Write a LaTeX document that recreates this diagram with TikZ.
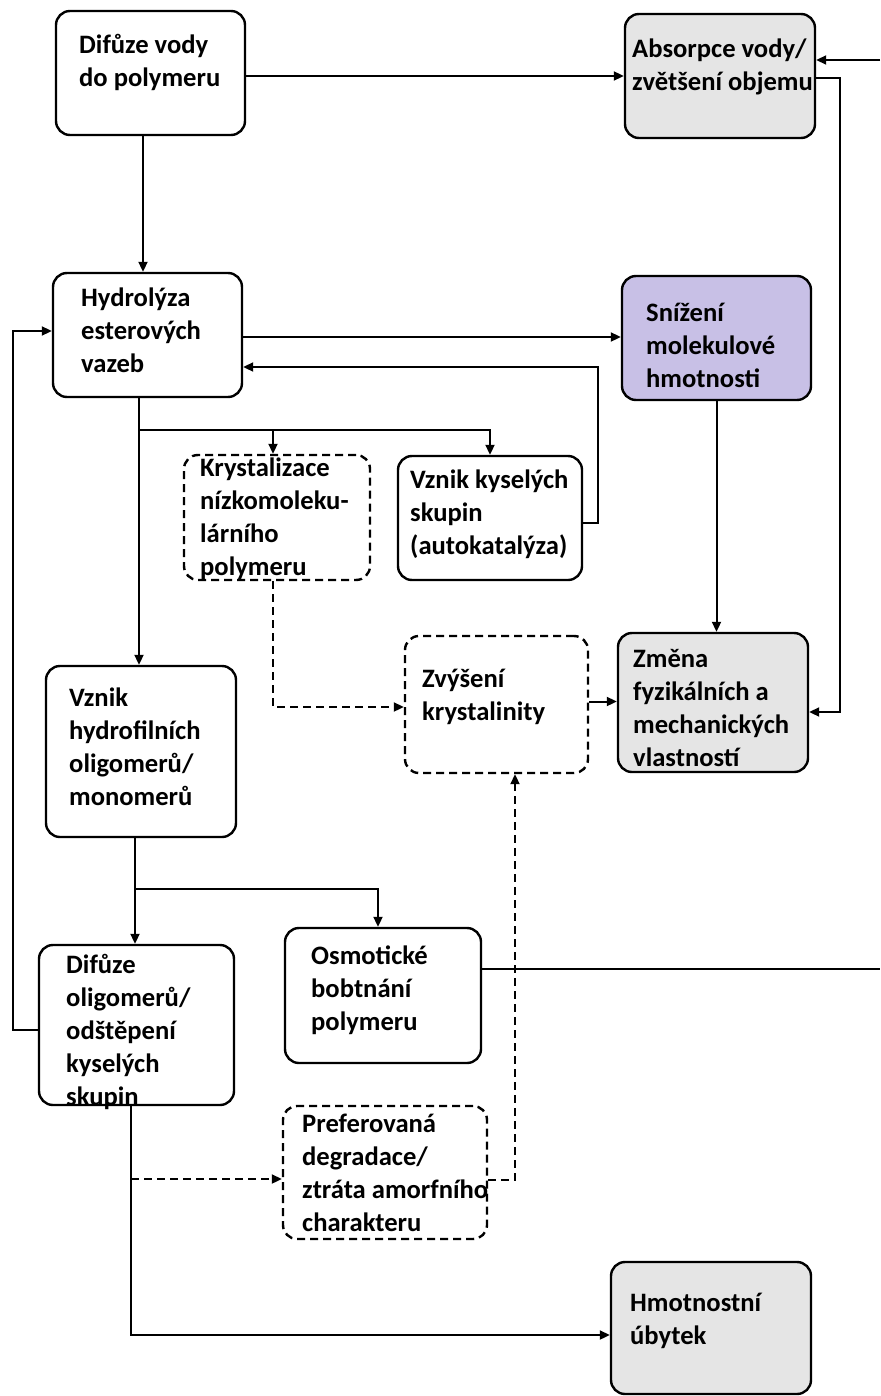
\documentclass[tikz,border=0pt]{standalone}
\usepackage{fontspec}
\setmainfont{Carlito}
\usetikzlibrary{arrows.meta,calc}
\definecolor{boxgray}{RGB}{229,229,229}
\definecolor{lav}{RGB}{200,192,230}
\begin{document}
\begin{tikzpicture}[x=1bp,y=-1bp,
  box/.style={draw, line width=2.4bp, rounded corners=14bp, inner sep=0pt, fill=white},
  dbox/.style={box, dash pattern=on 8bp off 5bp},
  txt/.style={font=\fontsize{26.6bp}{33bp}\selectfont\bfseries, align=left, inner sep=0pt, anchor=base west},
  conn/.style={line width=2bp},
  arr/.style={conn, -{Triangle[length=10bp,width=9bp]}},
  darr/.style={arr, dash pattern=on 8bp off 5bp}]
\useasboundingbox (0,0) rectangle (880,1396);
% boxes
\node[box, minimum width=189bp, minimum height=124bp] (A) at (150.5,73) {};
\node[box, fill=boxgray, minimum width=190bp, minimum height=124bp] (B) at (720,76) {};
\node[box, minimum width=189bp, minimum height=124bp] (C) at (147.5,335) {};
\node[box, fill=lav, minimum width=189bp, minimum height=124bp] (D) at (716.5,338) {};
\node[dbox, minimum width=186bp, minimum height=125bp] (E) at (277,517.5) {};
\node[box, minimum width=184bp, minimum height=124bp] (F) at (490,518) {};
\node[box, minimum width=190bp, minimum height=171bp] (G) at (141,751.5) {};
\node[dbox, minimum width=183bp, minimum height=137bp] (H) at (496.5,704.5) {};
\node[box, fill=boxgray, minimum width=190bp, minimum height=139bp] (I) at (713,702.5) {};
\node[box, minimum width=195bp, minimum height=160bp] (J) at (136.5,1025) {};
\node[box, minimum width=196bp, minimum height=135bp] (K) at (383,995.5) {};
\node[dbox, minimum width=204bp, minimum height=133bp] (L) at (385,1172.5) {};
\node[box, fill=boxgray, minimum width=200bp, minimum height=132bp] (M) at (711,1328) {};
% texts (anchored at the baseline of the last line)
\node[txt] (tA) at (79,87) {Difůze vody\\do polymeru};
\node[txt] (tB) at (632,91) {Absorpce vody/\\zvětšení objemu};
\node[txt] (tC) at (81,372) {Hydrolýza\\esterových\\vazeb};
\node[txt] (tD) at (646,387) {Snížení\\molekulové\\hmotnosti};
\node[txt] (tE) at (200,575) {Krystalizace\\nízkomoleku-\\lárního\\polymeru};
\node[txt] (tF) at (410,554) {Vznik kyselých\\skupin\\(autokatalýza)};
\node[txt] (tG) at (69,805) {Vznik\\hydrofilních\\oligomerů/\\monomerů};
\node[txt] (tH) at (422,720) {Zvýšení\\krystalinity};
\node[txt] (tI) at (633,766) {Změna\\fyzikálních a\\mechanických\\vlastností};
\node[txt] (tJ) at (66,1105) {Difůze\\oligomerů/\\odštěpení\\kyselých\\skupin};
\node[txt] (tK) at (311,1030) {Osmotické\\bobtnání\\polymeru};
\node[txt] (tL) at (302,1231) {Preferovaná\\degradace/\\ztráta amorfního\\charakteru};
\node[txt] (tM) at (630,1344) {Hmotnostní\\úbytek};
% connectors
\coordinate (a1) at ($(A.east)+(0,3)$);
\draw[arr] (a1) -- (a1 -| B.west);
\coordinate (a2) at ($(A.south)+(-7.5,0)$);
\draw[arr] (a2) -- (a2 |- C.north);
\coordinate (rt) at (880,60);
\draw[arr] (rt) -- (rt -| B.east);
\coordinate (bi) at (840,712);
\draw[arr] ($(B.east)+(0,2)$) -| (bi) -- (bi -| I.east);
\coordinate (c2) at ($(C.east)+(0,2)$);
\draw[arr] (c2) -- (c2 -| D.west);
\coordinate (fc) at (598,367);
\draw[arr] ($(F.east)+(0,5)$) -| (fc) -- (fc -| C.east);
\coordinate (c1) at ($(C.south)+(-8.5,0)$);
\draw[arr] (c1) -- (c1 |- G.north);
\coordinate (br1) at (139,430);
\coordinate (e1) at ($(E.north)+(-4,0)$);
\draw[arr] (br1) -| (F.north);
\draw[arr] (br1 -| e1) -- (e1);
\draw[arr] (D.south) -- (D.south |- I.north);
\coordinate (e2) at ($(E.south)+(-4,0)$);
\coordinate (eh) at ($(H.west)+(0,2.5)$);
\draw[darr] (e2) |- (eh);
\coordinate (hi) at ($(H.east)+(0,-3)$);
\draw[arr] (hi) -- (hi -| I.west);
\coordinate (g1) at ($(G.south)+(-6,0)$);
\draw[arr] (g1) -- (g1 |- J.north);
\coordinate (br2) at (135,889);
\coordinate (k1) at ($(K.north)+(-5,0)$);
\draw[arr] (br2) -| (k1);
\coordinate (cl) at (13,331);
\draw[arr] ($(J.west)+(0,5)$) -| (cl) -- (cl -| C.west);
\coordinate (j1) at ($(J.south)+(-5.5,0)$);
\coordinate (m1) at ($(M.west)+(0,7)$);
\draw[arr] (j1) |- (m1);
\coordinate (l1) at ($(L.west)+(0,6.5)$);
\draw[darr] (j1 |- l1) -- (l1);
\coordinate (h1) at ($(H.south)+(18.5,0)$);
\draw[darr] ($(L.east)+(0,7.5)$) -| (h1);
\coordinate (re) at (880,969);
\draw[conn] ($(K.east)+(0,-26.5)$) -- (re);
\end{tikzpicture}
\end{document}
